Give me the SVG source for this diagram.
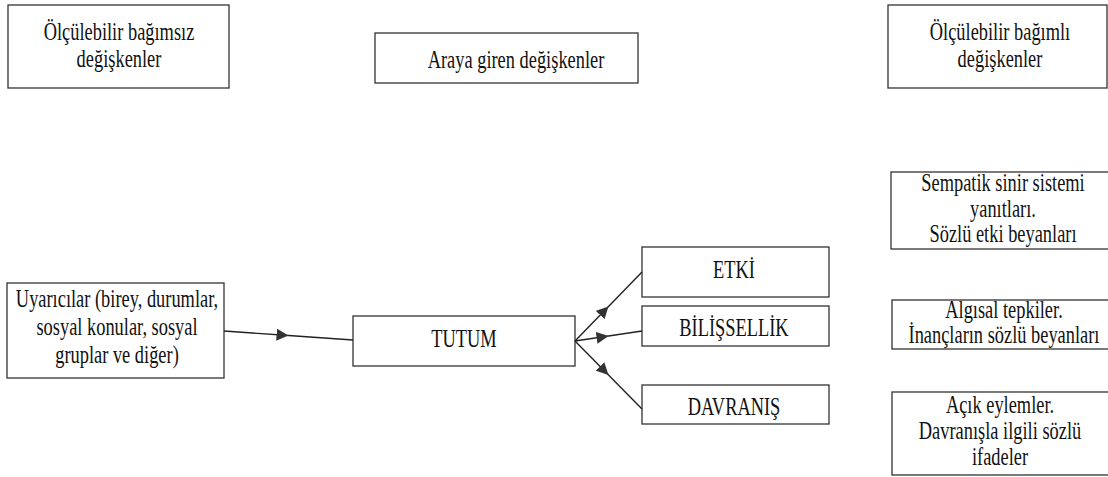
<svg xmlns="http://www.w3.org/2000/svg" width="1108" height="477" viewBox="0 0 1108 477">
  <style>
    .box { fill: #ffffff; stroke: #333333; stroke-width: 1.3; }
    .t { font-size: 18.4px; fill: #111111; text-anchor: middle; }
    .edge { fill: none; stroke: #222222; stroke-width: 1.4; marker-mid: url(#arrow); }
  </style>
  <defs>
    <marker id="arrow" markerUnits="userSpaceOnUse" markerWidth="13" markerHeight="12" refX="12" refY="6" orient="auto">
      <path d="M0,0 L12,6 L0,12 Z" fill="#333333"/>
    </marker>
  </defs>
  <rect width="1108" height="477" fill="#ffffff"/>

  <g font-family="'Liberation Serif', 'DejaVu Serif', serif">
  <!-- column headings -->
  <g id="olcul-bagimsiz">
    <rect class="box" x="8" y="5" width="221" height="83"/>
    <text class="t" transform="translate(119,40) scale(1,1.35)">Ölçülebilir bağımsız</text>
    <text class="t" transform="translate(119,67) scale(1,1.35)">değişkenler</text>
  </g>
  <g id="araya-giren">
    <rect class="box" x="375" y="33" width="263" height="50"/>
    <text class="t" transform="translate(516,68) scale(1,1.35)">Araya giren değişkenler</text>
  </g>
  <g id="olcul-bagimli">
    <rect class="box" x="888" y="5" width="219" height="83"/>
    <text class="t" transform="translate(1000,40) scale(1,1.35)">Ölçülebilir bağımlı</text>
    <text class="t" transform="translate(1000,67) scale(1,1.35)">değişkenler</text>
  </g>

  <!-- dependent measures -->
  <g id="sempatik">
    <rect class="box" x="891" y="172" width="224" height="77"/>
    <text class="t" transform="translate(1003,191) scale(1,1.35)">Sempatik sinir sistemi</text>
    <text class="t" transform="translate(1003,217) scale(1,1.35)">yanıtları.</text>
    <text class="t" transform="translate(1003,242) scale(1,1.35)">Sözlü etki beyanları</text>
  </g>
  <g id="algisal">
    <rect class="box" x="892" y="300" width="224" height="49"/>
    <text class="t" transform="translate(1004,318) scale(1,1.35)">Algısal tepkiler.</text>
    <text class="t" transform="translate(1004,343) scale(1,1.35)">İnançların sözlü beyanları</text>
  </g>
  <g id="acik-eylemler">
    <rect class="box" x="892" y="392" width="224" height="83"/>
    <text class="t" transform="translate(1000,413) scale(1,1.35)">Açık eylemler.</text>
    <text class="t" transform="translate(1000,439) scale(1,1.35)">Davranışla ilgili sözlü</text>
    <text class="t" transform="translate(1000,465) scale(1,1.35)">ifadeler</text>
  </g>

  <!-- main chain -->
  <g id="uyaricilar">
    <rect class="box" x="7" y="283" width="217" height="95"/>
    <text class="t" transform="translate(117,307) scale(1,1.35)">Uyarıcılar (birey, durumlar,</text>
    <text class="t" transform="translate(117,335) scale(1,1.35)">sosyal konular, sosyal</text>
    <text class="t" transform="translate(117,363) scale(1,1.35)">gruplar ve diğer)</text>
  </g>
  <g id="tutum">
    <rect class="box" x="353" y="316" width="222" height="50"/>
    <text class="t" transform="translate(464,347) scale(1,1.35)">TUTUM</text>
  </g>
  <g id="etki">
    <rect class="box" x="642" y="247" width="187" height="50"/>
    <text class="t" transform="translate(734,278) scale(1,1.35)">ETKİ</text>
  </g>
  <g id="bilissellik">
    <rect class="box" x="642" y="306" width="187" height="40"/>
    <text class="t" transform="translate(734,336) scale(1,1.35)">BİLİŞSELLİK</text>
  </g>
  <g id="davranis">
    <rect class="box" x="642" y="385" width="187" height="39"/>
    <text class="t" transform="translate(734,415) scale(1,1.35)">DAVRANIŞ</text>
  </g>
  </g>

  <!-- connectors, arrowhead at the middle of each line -->
  <g id="connectors">
    <polyline class="edge" points="224,331 288.5,335.5 353,340"/>
    <polyline class="edge" points="575,341 608.5,306.5 642,272"/>
    <polyline class="edge" points="575,341 608.5,336 642,331"/>
    <polyline class="edge" points="575,341 608.5,375 642,409"/>
  </g>
</svg>
